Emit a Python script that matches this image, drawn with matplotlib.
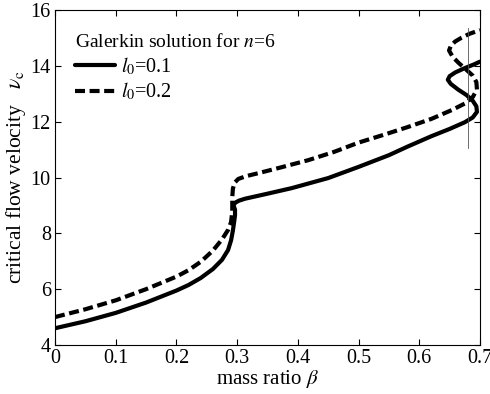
import numpy as np
import matplotlib
matplotlib.use("Agg")
import matplotlib.pyplot as plt

plt.rcParams['font.family'] = 'serif'
plt.rcParams['font.serif'] = ['Liberation Serif', 'DejaVu Serif']
plt.rcParams['mathtext.fontset'] = 'stix'

# Galerkin solution, l0 = 0.1 (solid) -- parametric path (beta, nu)
beta_01 = [0.0, 0.05, 0.1, 0.15, 0.2, 0.22, 0.24, 0.26, 0.275, 0.285, 0.29, 0.293, 0.295,
           0.2965, 0.2965, 0.294, 0.297, 0.303, 0.313, 0.35, 0.39, 0.45, 0.5, 0.55, 0.58,
           0.62, 0.65, 0.675, 0.688, 0.695, 0.694, 0.688, 0.678, 0.664, 0.652, 0.647,
           0.650, 0.659, 0.675, 0.69, 0.7]
nu_01 = [4.6, 4.85, 5.15, 5.52, 5.95, 6.15, 6.4, 6.72, 7.05, 7.4, 7.75, 8.1, 8.4,
         8.65, 8.85, 9.0, 9.1, 9.17, 9.24, 9.42, 9.62, 9.98, 10.38, 10.8, 11.1,
         11.48, 11.74, 11.98, 12.15, 12.35, 12.55, 12.75, 12.95, 13.15, 13.35, 13.5,
         13.63, 13.76, 13.92, 14.05, 14.15]

# l0 = 0.2 (dashed)
beta_02 = [0.0, 0.05, 0.1, 0.15, 0.2, 0.22, 0.24, 0.26, 0.275, 0.285, 0.29, 0.292, 0.292,
           0.293, 0.296, 0.302, 0.315, 0.334, 0.37, 0.417, 0.46, 0.5, 0.54, 0.58, 0.62,
           0.654, 0.675, 0.688, 0.695, 0.694, 0.688, 0.678, 0.665, 0.655, 0.649, 0.652,
           0.659, 0.669, 0.683, 0.7]
nu_02 = [5.0, 5.28, 5.6, 6.0, 6.45, 6.68, 6.98, 7.38, 7.78, 8.12, 8.4, 8.8, 9.3,
         9.6, 9.82, 9.95, 10.05, 10.15, 10.35, 10.62, 10.92, 11.25, 11.52, 11.8, 12.1,
         12.42, 12.65, 12.88, 13.15, 13.42, 13.65, 13.85, 14.1, 14.32, 14.55, 14.72,
         14.87, 15.0, 15.15, 15.28]

# thin vertical reference line
vline_beta = [0.68, 0.68]
vline_nu = [11.05, 15.35]

xticks = [0, 0.1, 0.2, 0.3, 0.4, 0.5, 0.6, 0.7]
xticklabels = ['0', '0.1', '0.2', '0.3', '0.4', '0.5', '0.6', '0.7']
yticks = [4, 6, 8, 10, 12, 14, 16]

fig = plt.figure(figsize=(4.9, 3.94), dpi=100)
ax = fig.add_axes([55/490, 1-345/394, 425/490, 335/394])

ax.plot(beta_01, nu_01, color='black', lw=3.0, solid_capstyle='round', solid_joinstyle='round',
        label=r'$l_0$=0.1')
ax.plot(beta_02, nu_02, color='black', lw=3.0, linestyle=(0, (2.4, 1.1)),
        label=r'$l_0$=0.2')
ax.plot(vline_beta, vline_nu, color='#555555', lw=0.6)

ax.set_xlim(0, 0.7)
ax.set_ylim(4, 16)
ax.set_xticks(xticks)
ax.set_xticklabels(xticklabels)
ax.set_yticks(yticks)
ax.tick_params(direction='in', top=True, right=True, length=4, width=0.8,
               labelsize=14.5, pad=3)
for s in ax.spines.values():
    s.set_linewidth(0.8)

ax.set_xlabel(r'mass ratio $\beta$', fontsize=15, labelpad=0)
ax.set_ylabel(r'critical flow velocity   $\nu_{\mathrm{c}}$', fontsize=15.5, labelpad=2)

leg = ax.legend(loc='upper left', bbox_to_anchor=(0.028, 0.955), frameon=False,
                title=r'Galerkin solution for $n$=6', title_fontsize=14, fontsize=14.5,
                handlelength=2.0, handletextpad=0.3, labelspacing=0.2,
                alignment='left', borderaxespad=0.0)

fig.savefig('out.png', dpi=100)
